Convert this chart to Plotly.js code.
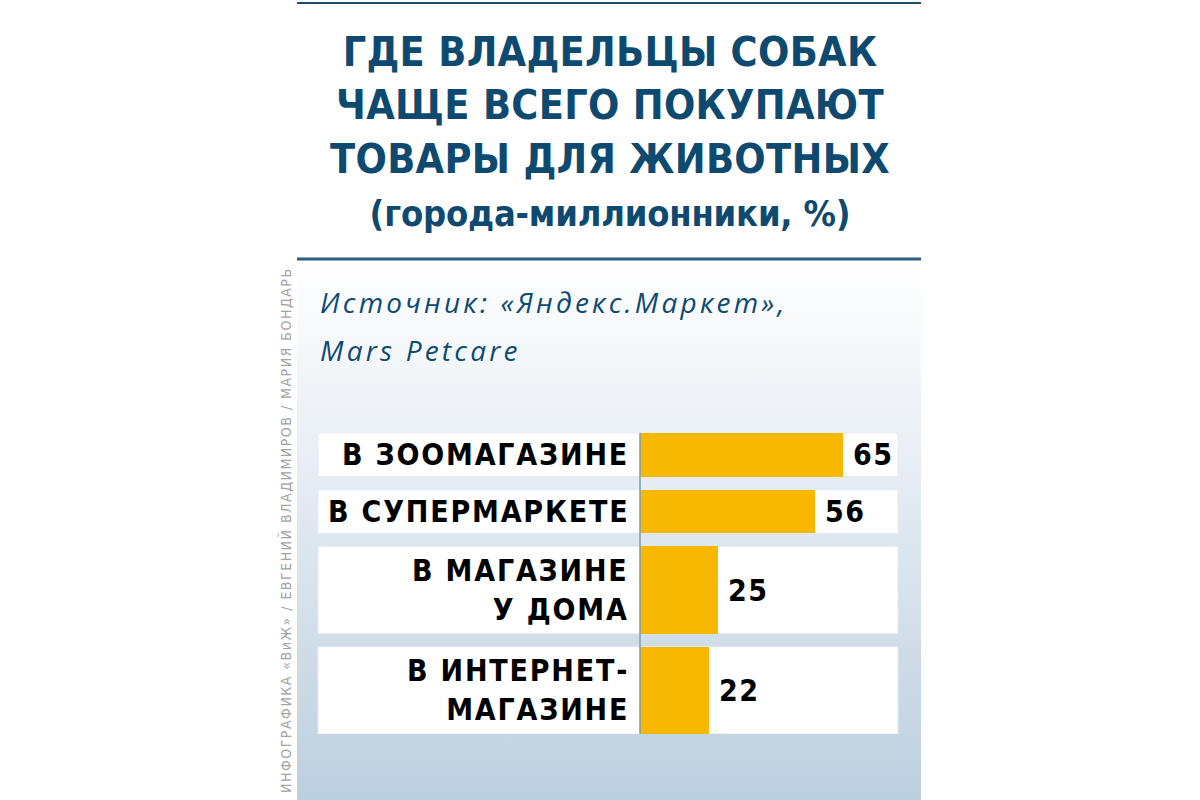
<!DOCTYPE html>
<html>
<head>
<meta charset="utf-8">
<script src="https://cdn.plot.ly/plotly-3.0.1.min.js"></script>
<style>
  html, body { margin: 0; padding: 0; background: #ffffff; }
  #wrap { position: relative; width: 1200px; height: 800px; overflow: hidden; }
  #panel { position: absolute; left: 297px; top: 260px; width: 624px; height: 540px;
           background: linear-gradient(to bottom, #ffffff 0%, #e9eff5 35%, #bccfdf 100%); }
  #chart { position: absolute; left: 0; top: 0; width: 1200px; height: 800px; }
</style>
</head>
<body>
<div id="wrap">
  <div id="panel"></div>
  <div id="chart"></div>
</div>
<script>
// ---- data ----
const categories = ["В ЗООМАГАЗИНЕ", "В СУПЕРМАРКЕТЕ", "В МАГАЗИНЕ<br>У ДОМА", "В ИНТЕРНЕТ-<br>МАГАЗИНЕ"];
const values = [65, 56, 25, 22];
const titleLines = ["ГДЕ ВЛАДЕЛЬЦЫ СОБАК", "ЧАЩЕ ВСЕГО ПОКУПАЮТ", "ТОВАРЫ ДЛЯ ЖИВОТНЫХ"];
const subtitle = "(города-миллионники, %)";
const sourceLines = ["Источник: «Яндекс.Маркет»,", "Mars Petcare"];
const credit = "ИНФОГРАФИКА «ВиЖ» / ЕВГЕНИЙ ВЛАДИМИРОВ / МАРИЯ БОНДАРЬ";

// ---- layout constants ----
const W = 1200, H = 800;
const px = v => v / W;          // x pixel -> paper
const py = v => 1 - v / H;      // y pixel -> paper
const NARROW = "DejaVu Sans Condensed, Liberation Sans Narrow, sans-serif";
const BLUE = "#0e4a70";
const BAR = "#f9b800";
const GAP = 0.3;                // gap between rows, in label-line units
const plotLeft = 318, plotRight = 898, zeroPx = 640, pxPerUnit = (843 - 640) / 65;

// row geometry derived from the number of label lines
const lineCounts = categories.map(c => c.split("<br>").length);
const centers = [];
let pos = 0;
lineCounts.forEach(n => { centers.push(pos + n / 2); pos += n + GAP; });
const total = pos - GAP;

const spaced = (s, ls) => s.split("<br>").map(l => `<span style="letter-spacing:${ls}px">${l}</span>`).join("<br>");

const trace = {
  type: "bar",
  orientation: "h",
  x: values,
  y: centers,
  width: lineCounts,
  base: 0,
  marker: { color: BAR, line: { width: 0 } },
  hoverinfo: "skip",
  showlegend: false
};

const shapes = [
  { type: "line", xref: "paper", yref: "paper", x0: px(297), x1: px(921), y0: py(3), y1: py(3),
    line: { color: "#1d4e70", width: 2 } },
  { type: "line", xref: "paper", yref: "paper", x0: px(297), x1: px(921), y0: py(259), y1: py(259),
    line: { color: "#2a5d7e", width: 3 } }
];
centers.forEach((c, i) => {
  shapes.push({ type: "rect", xref: "x domain", yref: "y", x0: 0, x1: 1,
    y0: c - lineCounts[i] / 2, y1: c + lineCounts[i] / 2,
    fillcolor: "#ffffff", line: { color: "#e3eaf1", width: 1 }, layer: "below" });
});
shapes.push({ type: "line", xref: "x", yref: "y domain", x0: 0, x1: 0, y0: 0, y1: 1,
  line: { color: "#7d9cb3", width: 1.5 }, layer: "above" });

const annotations = [];
categories.forEach((c, i) => {
  annotations.push({ xref: "x", yref: "y", x: 0, y: centers[i], xanchor: "right", yanchor: "middle",
    xshift: -9, align: "right", showarrow: false, text: spaced(c, 1.8),
    font: { family: NARROW, size: 30, color: "#000000", weight: "bold" } });
  annotations.push({ xref: "x", yref: "y", x: values[i], y: centers[i], xanchor: "left", yanchor: "middle",
    xshift: 8, showarrow: false, text: spaced(String(values[i]), 1.5),
    font: { family: NARROW, size: 30, color: "#000000", weight: "bold" } });
});
sourceLines.forEach((s, i) => {
  annotations.push({ xref: "paper", yref: "paper", x: px(318), y: py(302 + i * 48), xanchor: "left", yanchor: "middle",
    showarrow: false, text: `<span style="letter-spacing:3.2px">${s}</span>`,
    font: { family: "Open Sans, Noto Sans, sans-serif", size: 28, color: BLUE, style: "italic" } });
});
annotations.push({ xref: "paper", yref: "paper", x: px(285), y: py(530), xanchor: "center", yanchor: "middle",
  textangle: -90, showarrow: false, text: `<span style="letter-spacing:1.5px">${credit}</span>`,
  font: { family: NARROW, size: 14, color: "#a3a3a3" } });

const layout = {
  width: W, height: H,
  margin: { l: 0, r: 0, t: 0, b: 0, pad: 0 },
  paper_bgcolor: "rgba(0,0,0,0)",
  plot_bgcolor: "rgba(0,0,0,0)",
  title: {
    text: titleLines.map(t => `<span style="letter-spacing:0.3px">${t}</span>`).join("<br>") +
          `<br><span style="font-size:36px;letter-spacing:-0.2px">${subtitle}</span>`,
    x: px(610), xanchor: "center", xref: "paper",
    y: py(66), yanchor: "top", yref: "paper",
    font: { family: NARROW, size: 41, color: BLUE, weight: "bold" }
  },
  xaxis: {
    domain: [px(plotLeft), px(plotRight)],
    range: [(plotLeft - zeroPx) / pxPerUnit, (plotRight - zeroPx) / pxPerUnit],
    showgrid: false, zeroline: false, showline: false, showticklabels: false, ticks: "", fixedrange: true
  },
  yaxis: {
    domain: [py(734), py(433)],
    range: [total, 0],
    showgrid: false, zeroline: false, showline: false, showticklabels: false, ticks: "", fixedrange: true
  },
  bargap: 0,
  shapes: shapes,
  annotations: annotations,
  showlegend: false
};

Plotly.newPlot("chart", [trace], layout, { displayModeBar: false, staticPlot: true });
</script>
</body>
</html>
